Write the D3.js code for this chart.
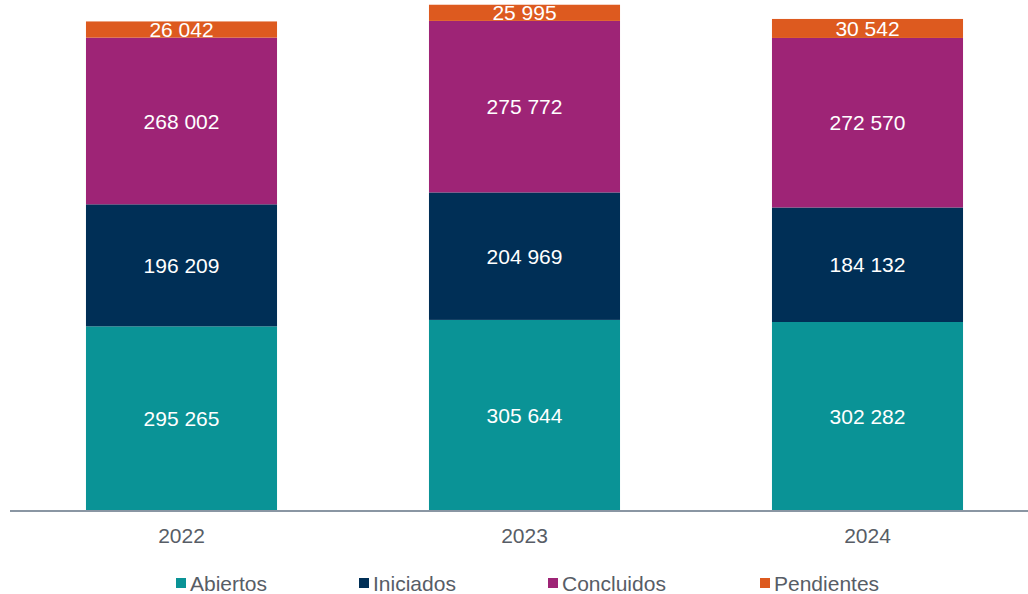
<!DOCTYPE html>
<html>
<head>
<meta charset="utf-8">
<script src="https://cdn.jsdelivr.net/npm/d3@7"></script>
<style>
  body { margin: 0; background: #ffffff; }
  svg { display: block; font-family: "Liberation Sans", Arial, sans-serif; }
</style>
</head>
<body>
<div id="chart"></div>
<script>
var years = ["2022", "2023", "2024"];
var seriesNames = ["Abiertos", "Iniciados", "Concluidos", "Pendientes"];
var abiertos = [295265, 305644, 302282];
var iniciados = [196209, 204969, 184132];
var concluidos = [268002, 275772, 272570];
var pendientes = [26042, 25995, 30542];
var colors = ["#0a9396", "#002f56", "#9e2476", "#dd5a1f"];

var width = 1028, height = 594;
var baseline = 510;
var textGrey = "#575d66";

var rows = years.map(function (y, i) {
    return {year: y, Abiertos: abiertos[i], Iniciados: iniciados[i], Concluidos: concluidos[i], Pendientes: pendientes[i]};
});
var stacked = d3.stack().keys(seriesNames)(rows);

var x = d3.scaleBand()
    .domain(years)
    .range([10, 1039])
    .paddingInner(0.443)
    .paddingOuter(0.2215);

var y = d3.scaleLinear()
    .domain([0, 820000])
    .range([baseline, 0]);

var color = d3.scaleOrdinal().domain(seriesNames).range(colors);
var fmt = function (v) { return d3.format(",")(v).replace(/,/g, " "); };

var svg = d3.select("#chart")
    .append("svg")
    .attr("width", width)
    .attr("height", height);

// stacked bars
var layers = svg.selectAll("g.layer")
    .data(stacked)
    .enter()
    .append("g")
    .attr("class", "layer")
    .attr("fill", function (d) { return color(d.key); });

layers.selectAll("rect")
    .data(function (d) { return d; })
    .enter()
    .append("rect")
    .attr("x", function (d) { return x(d.data.year); })
    .attr("y", function (d) { return y(d[1]); })
    .attr("width", x.bandwidth())
    .attr("height", function (d) { return y(d[0]) - y(d[1]); });

// value labels
layers.selectAll("text")
    .data(function (d) { return d; })
    .enter()
    .append("text")
    .attr("x", function (d) { return x(d.data.year) + x.bandwidth() / 2; })
    .attr("y", function (d) { return (y(d[0]) + y(d[1])) / 2; })
    .attr("dy", "0.36em")
    .attr("text-anchor", "middle")
    .attr("fill", "#ffffff")
    .style("font-size", "21px")
    .text(function (d) { return fmt(d[1] - d[0]); });

// x axis
var xAxis = svg.append("g")
    .attr("transform", "translate(0," + (baseline + 1) + ")")
    .call(d3.axisBottom(x).tickSize(0).tickPadding(17));
xAxis.select(".domain").remove();
xAxis.append("line")
    .attr("x1", 10)
    .attr("x2", width)
    .attr("stroke", "#8a96a3")
    .attr("stroke-width", 2);
xAxis.selectAll(".tick text")
    .attr("fill", textGrey)
    .style("font-size", "21px")
    .style("font-family", "'Liberation Sans', Arial, sans-serif");

// legend
var legendX = [176, 359, 548, 760];
var legend = svg.append("g")
    .selectAll("g")
    .data(seriesNames)
    .enter()
    .append("g")
    .attr("transform", function (d, i) { return "translate(" + legendX[i] + ",578)"; });

legend.append("rect")
    .attr("width", 10)
    .attr("height", 10)
    .attr("fill", function (d) { return color(d); });

legend.append("text")
    .attr("x", 14)
    .attr("y", 5)
    .attr("dy", "0.36em")
    .attr("fill", textGrey)
    .style("font-size", "21px")
    .text(function (d) { return d; });
</script>
</body>
</html>
